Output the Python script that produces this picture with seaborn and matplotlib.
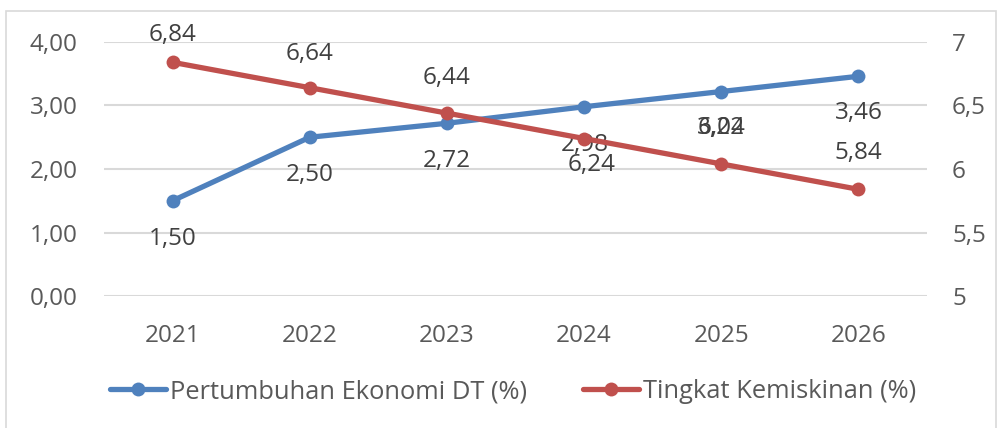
import matplotlib
matplotlib.use("Agg")
import matplotlib.pyplot as plt
import seaborn as sns
import pandas as pd
from matplotlib.patches import Rectangle
from matplotlib.lines import Line2D

years = ["2021", "2022", "2023", "2024", "2025", "2026"]
growth = [1.50, 2.50, 2.72, 2.98, 3.22, 3.46]
poverty = [6.84, 6.64, 6.44, 6.24, 6.04, 5.84]
growth_name = "Pertumbuhan Ekonomi DT (%)"
poverty_name = "Tingkat Kemiskinan (%)"
left_ticks = [0, 1, 2, 3, 4]
right_ticks = [5, 5.5, 6, 6.5, 7]

BLUE = "#4F81BD"
RED = "#C0504D"
GRID = "#D9D9D9"
TICK = "#595959"
LABEL = "#404040"

sns.set_theme(style="white")
plt.rcParams["font.family"] = ["Open Sans", "DejaVu Sans"]
FS = 17.5

df = pd.DataFrame({"year": years, "growth": growth, "poverty": poverty})
df["x"] = range(len(years))

fig = plt.figure(figsize=(9.98, 4.28), dpi=100)
ax = fig.add_axes([0.1042, 0.3084, 0.8247, 0.5935])
ax2 = ax.twinx()

sns.lineplot(data=df, x="x", y="growth", ax=ax, color=BLUE, lw=3.8,
             marker="o", markersize=10, markeredgewidth=0, legend=False)
sns.lineplot(data=df, x="x", y="poverty", ax=ax2, color=RED, lw=3.8,
             marker="o", markersize=10, markeredgewidth=0, legend=False)

ax.set_xlim(-0.5, len(years) - 0.5)
ax.set_ylim(0, 4)
ax2.set_ylim(5, 7)
ax.set_xticks(df["x"])
ax.set_xticklabels(years)
ax.set_yticks(left_ticks)
ax.set_yticklabels([f"{v:.2f}".replace(".", ",") for v in left_ticks])
ax2.set_yticks(right_ticks)
ax2.set_yticklabels([f"{v:g}".replace(".", ",") for v in right_ticks])

ax.yaxis.grid(True, color=GRID, lw=1.5)
ax.set_axisbelow(True)
for a in (ax, ax2):
    for s in a.spines.values():
        s.set_visible(False)
    a.set_xlabel("")
    a.set_ylabel("")
    a.tick_params(length=0, labelsize=FS, labelcolor=TICK)
ax.tick_params(axis="y", pad=19)
ax2.tick_params(axis="y", pad=18)
ax.tick_params(axis="x", pad=20)

# value labels (offsets in pixels)
growth_off = [(0, -38), (0, -38), (0, -38), (1, -38), (0, -36), (0, -37)]
poverty_off = [(0, 27), (0, 34), (0, 35), (8, -26), (0, 36), (0, 36)]
for i, (v, off) in enumerate(zip(growth, growth_off)):
    ax.annotate(f"{v:.2f}".replace(".", ","), (i, v), xytext=off,
                textcoords="offset pixels", ha="center", va="center",
                fontsize=FS, color=LABEL, annotation_clip=False)
for i, (v, off) in enumerate(zip(poverty, poverty_off)):
    ax2.annotate(f"{v:.2f}".replace(".", ","), (i, v), xytext=off,
                 textcoords="offset pixels", ha="center", va="center",
                 fontsize=FS, color=LABEL, annotation_clip=False)

handles = [
    Line2D([0], [0], color=BLUE, lw=3.8, marker="o", markersize=10, markeredgewidth=0),
    Line2D([0], [0], color=RED, lw=3.8, marker="o", markersize=10, markeredgewidth=0),
]
fig.legend(handles, [growth_name, poverty_name], loc="center",
           bbox_to_anchor=(0.514, 0.085), ncol=2, frameon=False,
           fontsize=18.4, labelcolor=TICK, handlelength=2.2, handletextpad=0.15,
           columnspacing=2.2)

# chart area border
fig.patches.append(Rectangle((6 / 998, -0.1), 990 / 998, 1.1 - 11 / 428,
                             transform=fig.transFigure, fill=False,
                             edgecolor=GRID, lw=1.2))

fig.savefig("out.png", dpi=100)
